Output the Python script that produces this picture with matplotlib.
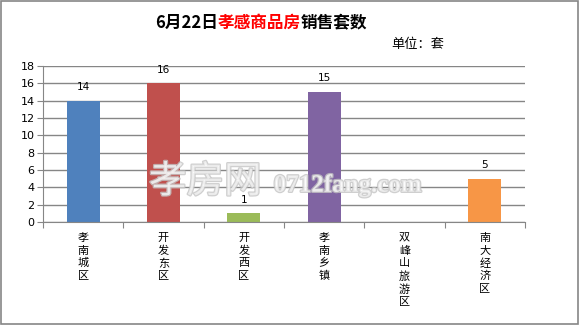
"""
6月22日孝感商品房销售套数 bar chart.
"""

import matplotlib.pyplot as plt
import matplotlib.patches as patches
import matplotlib.patheffects as pe

plt.rcParams['font.family'] = ['Noto Sans CJK SC', 'DejaVu Sans']

categories = ["孝南城区", "开发东区", "开发西区", "孝南乡镇", "双峰山旅游区", "南大经济区"]
sales = [14, 16, 1, 15, 0, 5]
bar_colors = ["#4F81BD", "#C0504D", "#9BBB59", "#8064A2", "#4BACC6", "#F79646"]
y_ticks = list(range(0, 19, 2))

fig = plt.figure(figsize=(5.8, 3.25), dpi=100)
ax = fig.add_axes([0.074, 0.317, 0.831, 0.48])

x = list(range(len(categories)))
bars = ax.bar(x, sales, width=0.41, color=bar_colors, zorder=2)

# data labels (none for zero)
for xi, v in zip(x, sales):
    if v > 0:
        ax.text(xi, v + 1.0, str(v), ha="center", va="bottom", fontsize=7.5,
                family="DejaVu Sans", zorder=3)

ax.set_xlim(-0.5, len(categories) - 0.5)
ax.set_ylim(0, 18)
ax.set_yticks(y_ticks)
ax.set_yticklabels([str(t) for t in y_ticks], fontsize=8, family="DejaVu Sans")
ax.yaxis.grid(True, color="#868686", linewidth=1.0, zorder=0)
ax.set_axisbelow(True)

# category ticks sit between bars, labels are stacked vertically
ax.set_xticks([i - 0.5 for i in range(len(categories) + 1)])
ax.set_xticklabels([])
ax.set_xticks(x, minor=True)
ax.set_xticklabels(["\n".join(c) for c in categories], minor=True,
                   fontsize=8, linespacing=1.3, va="top")
ax.tick_params(axis="x", which="minor", length=0, pad=8)
ax.tick_params(axis="x", which="major", length=4, color="#868686", direction="out")
ax.tick_params(axis="y", length=4, color="#868686", direction="out", pad=2)

for side in ["top", "right"]:
    ax.spines[side].set_visible(False)
for side in ["left", "bottom"]:
    ax.spines[side].set_color("#868686")

# title: mixed black / red
title_y = 0.93
parts = [("6月22日", "black"), ("孝感商品房", "red"), ("销售套数", "black")]
fig.canvas.draw()
renderer = fig.canvas.get_renderer()
widths = []
texts = []
for s, c in parts:
    tt = fig.text(0, title_y, s, fontsize=12, fontweight="bold", color=c,
                  ha="left", va="center")
    bb = tt.get_window_extent(renderer=renderer)
    widths.append(bb.width / fig.bbox.width)
    texts.append(tt)
x_pos = 0.45 - sum(widths) / 2
for tt, w in zip(texts, widths):
    tt.set_x(x_pos)
    x_pos += w

fig.text(0.721, 0.862, "单位：套", fontsize=9.5, ha="center", va="center")

# watermark: pale outlined text laid over the plot
fig.text(0.257, 0.44, "孝房网", fontsize=27, color="white", alpha=0.6,
         fontweight="light", ha="left", va="center", zorder=5,
         path_effects=[pe.withStroke(linewidth=1.8, foreground="#c4c4c4", alpha=0.8)])
fig.text(0.472, 0.43, "0712fang.com", fontsize=18, color="white", alpha=0.6,
         family="Liberation Serif", fontweight="bold", ha="left", va="center",
         zorder=5,
         path_effects=[pe.withStroke(linewidth=1.8, foreground="#c4c4c4", alpha=0.8)])

# outer border
fig.patches.append(patches.Rectangle((0.002, 0.003), 0.995, 0.994,
                                     transform=fig.transFigure, fill=False,
                                     edgecolor="#868686", linewidth=1.2))

fig.savefig("out.png", dpi=100)
